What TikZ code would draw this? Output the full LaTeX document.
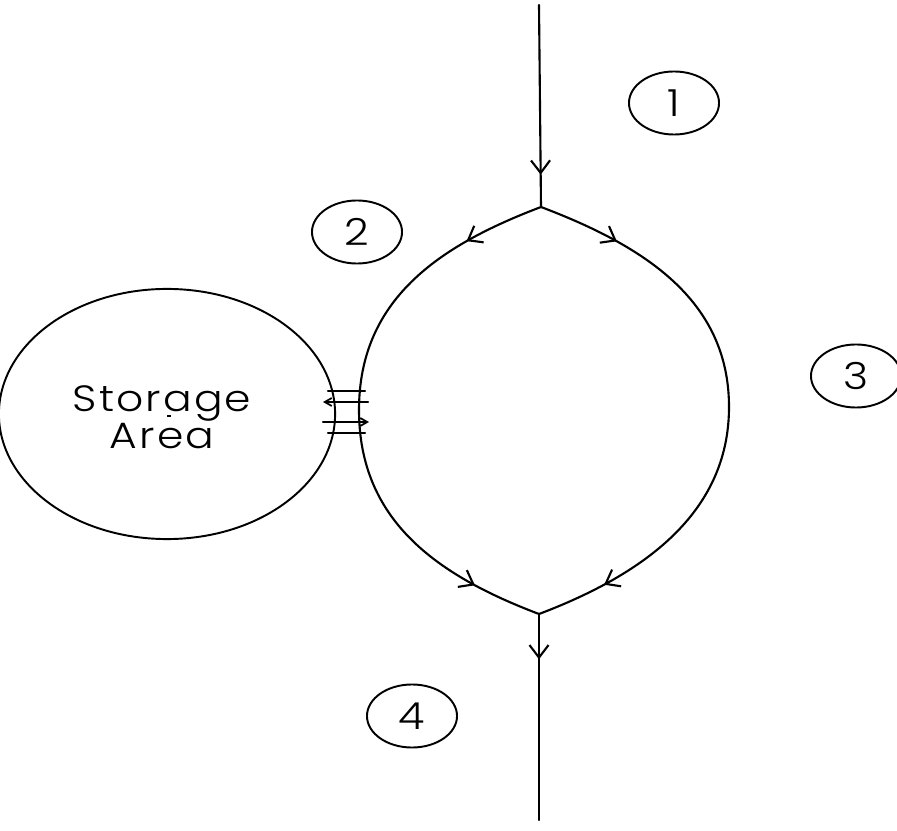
\documentclass[tikz,border=0pt]{standalone}
\usepackage{fontspec}
\newfontfamily\cadfont{Poppins}[UprightFont=* Light, FakeStretch=1.16, LetterSpace=6]
\newfontfamily\cadnum{Poppins}[UprightFont=* Light, FakeStretch=1.15]
\usetikzlibrary{shapes.geometric,arrows.meta,decorations.markings}
\tikzset{
  line/.style={line width=0.6pt, line cap=round, line join=round},
  flowtip/.tip={Straight Barb[length=0.125cm,width=0.19cm,line width=0.6pt]},
  smalltip/.tip={Straight Barb[length=0.07cm,width=0.08cm,line width=0.5pt]},
  markat/.style={postaction={decorate}, decoration={markings, mark=at position #1 with {\arrow{flowtip}}}},
  markpair/.style 2 args={postaction={decorate}, decoration={markings,
      mark=at position #1 with {\arrow{flowtip}},
      mark=at position #2 with {\arrow{flowtip}}}},
  numcirc/.style={draw, ellipse, line width=0.55pt, minimum width=0.9cm, minimum height=0.63cm, inner sep=0pt,
      font=\cadnum\fontsize{10.6pt}{11pt}\selectfont},
  storagebox/.style={draw, ellipse, line width=0.55pt, minimum width=3.36cm, minimum height=2.5cm, inner sep=0pt},
  storagetext/.style={align=center, inner sep=0pt, font=\cadfont\fontsize{10.4pt}{10.6pt}\selectfont}
}
\begin{document}
\begin{tikzpicture}[x=0.01cm, y=0.01cm]
\useasboundingbox (0,0) rectangle (897,830);
% coordinates
\coordinate (topend) at (539,825);
\coordinate (jtop) at (541,623);
\coordinate (jbot) at (539,216);
\coordinate (botend) at (539,10);
% vertical flows
\draw[line, markat=0.84] (topend) -- (jtop);
\draw[line, markat=0.22] (jbot) -- (botend);
% lens
\draw[line, markpair={0.14}{0.88}] (jtop) .. controls (438,584) and (359,530) .. (359,420)
      .. controls (359,310) and (436,255) .. (jbot);
\draw[line, markpair={0.14}{0.88}] (jtop) .. controls (644,584) and (729,530) .. (729,423)
      .. controls (729,316) and (642,255) .. (jbot);
% storage
\node[storagebox] (storage) at (167,416) {};
\node[storagetext] (stext) at (162,413) {Storage\\Area};
\draw[line width=0.5pt] (167,414) -- (171,414);
% interface
\coordinate (ia1) at (328,439); \coordinate (ib1) at (365,439);
\coordinate (ia2) at (368,428); \coordinate (ib2) at (323,428);
\coordinate (ia3) at (323,408); \coordinate (ib3) at (369,408);
\coordinate (ia4) at (328,397); \coordinate (ib4) at (365,397);
\draw[line] (ia1) -- (ib1);
\draw[line, -{smalltip}] (ia2) -- (ib2);
\draw[line, -{smalltip}] (ia3) -- (ib3);
\draw[line] (ia4) -- (ib4);
% numbered circles
\node[numcirc] (n1) at (674,727) {1};
\node[numcirc] (n2) at (357,598) {2};
\node[numcirc] (n3) at (856,454) {3};
\node[numcirc] (n4) at (412,114) {4};
\end{tikzpicture}
\end{document}
